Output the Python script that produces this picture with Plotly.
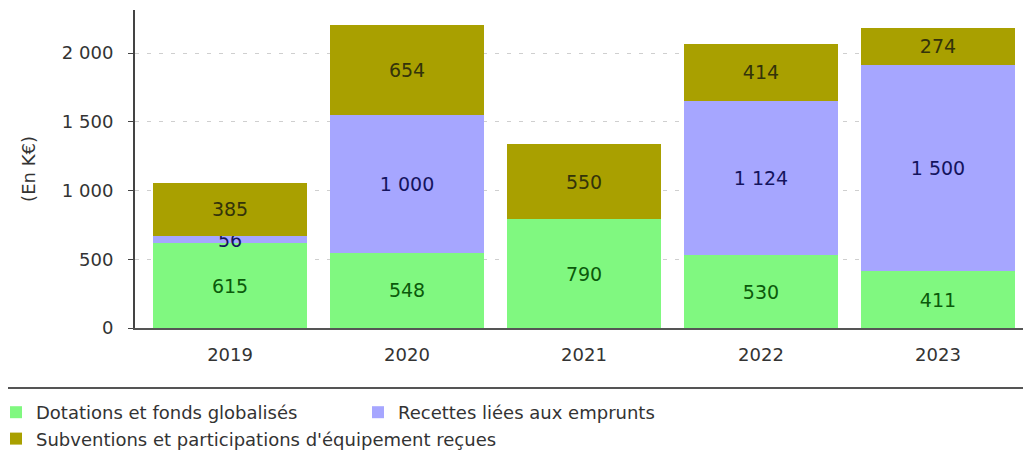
import plotly.graph_objects as go

years = ["2019", "2020", "2021", "2022", "2023"]
dotations = [615, 548, 790, 530, 411]
emprunts = [56, 1000, 0, 1124, 1500]
subventions = [385, 654, 550, 414, 274]
names = ["Dotations et fonds globalisés", "Recettes liées aux emprunts",
         "Subventions et participations d'équipement reçues"]
y_ticks = [0, 500, 1000, 1500, 2000]

colors = ["#80F880", "#A6A6FF", "#A9A000"]
text_colors = ["#0B5A0B", "#14145E", "#33330A"]

FONT = "DejaVu Sans, Verdana, sans-serif"

fig = go.Figure()
for vals, name, col, tcol in zip([dotations, emprunts, subventions], names, colors, text_colors):
    fig.add_trace(go.Bar(
        x=years, y=vals, name=name,
        marker=dict(color=col, line=dict(width=0)),
        texttemplate=[("" if v == 0 else "%{y:,}") for v in vals],
        textposition="inside", insidetextanchor="middle",
        constraintext="none", textangle=0,
        textfont=dict(family=FONT, size=19, color=tcol),
        cliponaxis=False,
    ))

# page is offset by the body margin (8px)
OFF = 8
W, H = 1031 - OFF, 471 - OFF
L, T = 135 - OFF, 10 - OFF
R = W - (1027 - OFF)
B = H - (328 - OFF)
pw = W - L - R
ph = H - T - B


def py(page_y):
    return (T + ph - (page_y - OFF)) / ph


def px(page_x):
    return ((page_x - OFF) - L) / pw


fig.update_layout(
    barmode="stack", bargap=0.135,
    width=W, height=H,
    margin=dict(l=L, r=R, t=T, b=B, autoexpand=False),
    paper_bgcolor="white", plot_bgcolor="white",
    separators=", ",
    font=dict(family=FONT, size=18, color="#333333"),
    xaxis=dict(
        range=[-0.537, 4.503], showline=True, linecolor="#555555", linewidth=2,
        ticks="", ticklabelstandoff=9, showgrid=False, automargin=False,
        tickfont=dict(family=FONT, size=18, color="#333333"),
    ),
    yaxis=dict(
        range=[0, 2313], tickvals=y_ticks, tickformat=",",
        showline=True, linecolor="#444444", linewidth=2,
        ticks="outside", ticklen=5, tickcolor="#444444",
        ticklabelstandoff=11, automargin=False,
        showgrid=True, gridcolor="#cfcfcf", griddash="4px,8px", gridwidth=1,
        zeroline=False,
        title=dict(text="(En K€)", standoff=22, font=dict(family=FONT, size=18, color="#333333")),
        tickfont=dict(family=FONT, size=18, color="#333333"),
    ),
    legend=dict(
        orientation="h", x=px(-4), xanchor="left",
        y=py(394), yanchor="top",
        entrywidth=317, entrywidthmode="pixels",
        font=dict(family=FONT, size=18, color="#333333"),
        traceorder="normal", itemwidth=30,
    ),
    shapes=[dict(
        type="line", xref="paper", yref="paper",
        x0=px(0), x1=px(1031),
        y0=py(388), y1=py(388),
        line=dict(color="#555555", width=2),
    )],
    showlegend=True,
)

fig.write_html("out.html")
